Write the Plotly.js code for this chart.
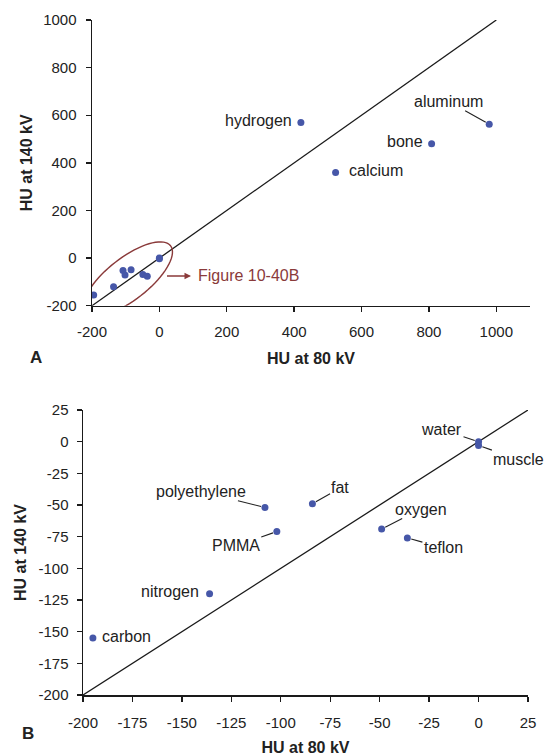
<!DOCTYPE html>
<html>
<head>
<meta charset="utf-8">
<script src="https://cdn.plot.ly/plotly-3.0.1.min.js"></script>
<style>
  html, body { margin: 0; padding: 0; background: #ffffff; }
  #chart { width: 545px; height: 756px; }
</style>
</head>
<body>
<div id="chart"></div>
<script>
// ---------------- data ----------------
const materials = ['hydrogen', 'calcium', 'bone', 'aluminum',
  'water', 'muscle', 'polyethylene', 'fat', 'PMMA', 'oxygen', 'teflon', 'nitrogen', 'carbon'];
const hu80  = [420, 523, 808, 979, 0, 0, -108, -84, -102, -49, -36, -136, -195];
const hu140 = [569, 359, 480, 562, 0, -3, -52, -49, -71, -69, -76, -120, -155];

const panelALabels = ['hydrogen', 'calcium', 'bone', 'aluminum'];
const panelBLabels = ['water', 'muscle', 'polyethylene', 'fat', 'PMMA', 'oxygen', 'teflon', 'nitrogen', 'carbon'];

const tickValsA = [-200, 0, 200, 400, 600, 800, 1000];
const tickTextA = ['-200', '0', '200', '400', '600', '800', '1000'];
const tickValsB = [-200, -175, -150, -125, -100, -75, -50, -25, 0, 25];
const tickTextB = ['-200', '-175', '-150', '-125', '-100', '-75', '-50', '-25', '0', '25'];

const identityA = [-200, 1000];
const identityB = [-200, 25];

// ---------------- styling / layout ----------------
const W = 545, H = 756;
const FONT = 'Liberation Sans, Arial, Helvetica, sans-serif';
const POINT = '#4657a8';
const BROWN = '#8a3a3a';
const INK = '#222222';

// panel geometry in page pixels
const A = { x0: 92, x1: 530, y0: 20, y1: 305.7, xr: [-200, 1100], yr: [-200, 1000] };
const B = { x0: 83, x1: 528, y0: 410, y1: 695, xr: [-200, 25], yr: [-200, 25] };

function dom(p) {
  return {
    x: [p.x0 / W, p.x1 / W],
    y: [(H - p.y1) / H, (H - p.y0) / H]
  };
}
function px2data(p, X, Y) {
  const x = p.xr[0] + (X - p.x0) / (p.x1 - p.x0) * (p.xr[1] - p.xr[0]);
  const y = p.yr[1] - (Y - p.y0) / (p.y1 - p.y0) * (p.yr[1] - p.yr[0]);
  return [x, y];
}

// rotated ellipse (annotation) built in pixel space then converted to data
function ellipsePath(p, cx, cy, a, b, angDeg) {
  const t = angDeg * Math.PI / 180;
  let d = '';
  const n = 72;
  for (let i = 0; i <= n; i++) {
    const th = 2 * Math.PI * i / n;
    const ex = a * Math.cos(th), ey = b * Math.sin(th);
    const X = cx + ex * Math.cos(t) + ey * Math.sin(t);
    const Y = cy - ex * Math.sin(t) + ey * Math.cos(t);
    const [dx, dy] = px2data(p, X, Y);
    d += (i === 0 ? 'M' : 'L') + dx.toFixed(3) + ',' + dy.toFixed(3) + ' ';
  }
  return d + 'Z';
}

const dA = dom(A), dB = dom(B);

const pointTrace = (xa, ya) => ({
  type: 'scatter', mode: 'markers',
  x: hu80, y: hu140, text: materials,
  xaxis: xa, yaxis: ya,
  marker: { color: POINT, size: 7 },
  hoverinfo: 'text+x+y', showlegend: false
});
const lineTrace = (xa, ya, r) => ({
  type: 'scatter', mode: 'lines',
  x: r, y: r, xaxis: xa, yaxis: ya,
  line: { color: '#1a1a1a', width: 1.3 },
  hoverinfo: 'skip', showlegend: false
});

const data = [
  lineTrace('x', 'y', identityA),
  pointTrace('x', 'y'),
  lineTrace('x2', 'y2', identityB),
  pointTrace('x2', 'y2')
];

// label placement (pixel offsets of the text from its point)
const labelStyle = {
  hydrogen: { xanchor: 'right', xshift: -7, yshift: 2 },
  calcium:  { xanchor: 'left',  xshift: 11, yshift: 2 },
  bone:     { xanchor: 'right', xshift: -7, yshift: 2 },
  aluminum: { ax: -41, ay: -23 },
  water:    { ax: -37, ay: -12 },
  muscle:   { ax: 40, ay: 14 },
  polyethylene: { ax: -64, ay: -16 },
  fat:      { ax: 28, ay: -16 },
  PMMA:     { ax: -41, ay: 14 },
  oxygen:   { ax: 39, ay: -20 },
  teflon:   { ax: 36, ay: 10 },
  nitrogen: { xanchor: 'right', xshift: -9, yshift: 2 },
  carbon:   { xanchor: 'left',  xshift: 7, yshift: 2 }
};

const annotations = [];
function addLabels(list, xref, yref) {
  list.forEach(name => {
    const i = materials.indexOf(name);
    const s = labelStyle[name];
    const base = {
      x: hu80[i], y: hu140[i], xref: xref, yref: yref, text: name,
      font: { family: FONT, size: 16, color: INK }
    };
    if (s.ax !== undefined) {
      Object.assign(base, {
        showarrow: true, ax: s.ax, ay: s.ay, arrowhead: 0, arrowwidth: 1.1,
        arrowcolor: INK, standoff: 4, startstandoff: 1, borderpad: 0
      });
    } else {
      Object.assign(base, { showarrow: false, xanchor: s.xanchor, yanchor: 'middle',
        xshift: s.xshift, yshift: s.yshift });
    }
    annotations.push(base);
  });
}
addLabels(panelALabels, 'x', 'y');
addLabels(panelBLabels, 'x2', 'y2');

// "Figure 10-40B" callout
const arrowTip = px2data(A, 191, 276);
annotations.push({
  x: arrowTip[0], y: arrowTip[1], xref: 'x', yref: 'y', text: ' ',
  showarrow: true, ax: -26, ay: 0, arrowhead: 2, arrowsize: 1, arrowwidth: 1.3,
  arrowcolor: BROWN, standoff: 0, font: { size: 2 }
});
const figTxt = px2data(A, 196, 276);
annotations.push({
  x: figTxt[0], y: figTxt[1], xref: 'x', yref: 'y', text: 'Figure 10-40B',
  showarrow: false, xanchor: 'left', yanchor: 'middle', yshift: 1,
  font: { family: FONT, size: 16, color: BROWN }
});

// panel letters
annotations.push({ x: 28 / W, y: 1 - 358 / H, xref: 'paper', yref: 'paper', text: '<b>A</b>',
  showarrow: false, font: { family: FONT, size: 17, color: INK } });
annotations.push({ x: 20 / W, y: 1 - 745 / H, xref: 'paper', yref: 'paper', text: '<b>B</b>',
  showarrow: false, font: { family: FONT, size: 17, color: INK } });

const shapes = [{
  type: 'path', xref: 'x', yref: 'y',
  path: ellipsePath(A, 128, 279, 54, 21, 38),
  line: { color: BROWN, width: 1.4 }, fillcolor: 'rgba(0,0,0,0)'
}];

function axisBase(extra) {
  return Object.assign({
    showgrid: false, zeroline: false, showline: true, linecolor: '#1a1a1a', linewidth: 1.5,
    ticks: 'outside', ticklen: 5, tickwidth: 1.3, tickcolor: '#1a1a1a',
    tickfont: { family: FONT, size: 15, color: INK },
    automargin: false, fixedrange: true
  }, extra);
}
const titleFont = { family: FONT, size: 16, color: INK, weight: 'bold' };

const layout = {
  width: W, height: H,
  margin: { l: 0, r: 0, t: 0, b: 0 },
  paper_bgcolor: '#ffffff', plot_bgcolor: '#ffffff',
  showlegend: false,
  xaxis: axisBase({ domain: dA.x, range: A.xr, anchor: 'y',
    tickmode: 'array', tickvals: tickValsA, ticktext: tickTextA, ticklabelstandoff: 7,
    title: { text: '<b>HU at 80 kV</b>', font: titleFont, standoff: 13 } }),
  yaxis: axisBase({ domain: dA.y, range: A.yr, anchor: 'x',
    tickmode: 'array', tickvals: tickValsA, ticktext: tickTextA, ticklabelstandoff: 6,
    title: { text: '<b>HU at 140 kV</b>', font: titleFont, standoff: 6 } }),
  xaxis2: axisBase({ domain: dB.x, range: B.xr, anchor: 'y2',
    tickmode: 'array', tickvals: tickValsB, ticktext: tickTextB, ticklabelstandoff: 8,
    title: { text: '<b>HU at 80 kV</b>', font: titleFont, standoff: 13 } }),
  yaxis2: axisBase({ domain: dB.y, range: B.yr, anchor: 'x2',
    tickmode: 'array', tickvals: tickValsB, ticktext: tickTextB, ticklabelstandoff: 5,
    title: { text: '<b>HU at 140 kV</b>', font: titleFont, standoff: 8 } }),
  annotations: annotations,
  shapes: shapes
};

Plotly.newPlot('chart', data, layout, { displayModeBar: false, staticPlot: true });
</script>
</body>
</html>
